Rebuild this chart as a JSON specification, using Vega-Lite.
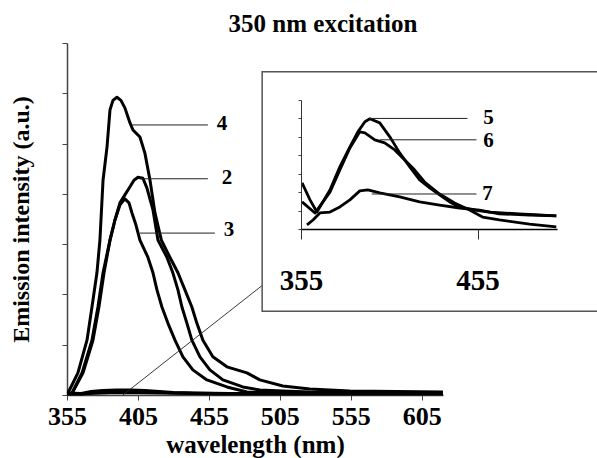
{
  "$schema": "https://vega.github.io/schema/vega-lite/v6.json",
  "width": 376,
  "height": 352,
  "autosize": {"type": "none"},
  "padding": {"left": 67, "top": 43, "right": 154, "bottom": 63},
  "background": "white",
  "config": {
    "view": {"stroke": null},
    "font": "Liberation Serif",
    "axis": {"labelFont": "Liberation Serif", "titleFont": "Liberation Serif", "labelFontWeight": "bold", "titleFontWeight": "bold", "labelColor": "black", "titleColor": "black", "grid": false, "domainColor": "#444", "tickColor": "#444", "labelOverlap": false, "labelFlush": false}
  },
  "title": {"text": "350 nm excitation", "font": "Liberation Serif", "fontWeight": "bold", "fontSize": 25, "color": "black", "anchor": "middle", "frame": "group", "dx": 68, "dy": 27, "baseline": "alphabetic", "offset": 13},
  "datasets": {
    "main": [
      {"s": "4", "wl": 355.7, "v": 0.04}, {"s": "4", "wl": 362.7, "v": 0.44}, {"s": "4", "wl": 369.1, "v": 1.09}, {"s": "4", "wl": 372.6, "v": 1.75}, {"s": "4", "wl": 376.1, "v": 2.43}, {"s": "4", "wl": 378.2, "v": 3.08}, {"s": "4", "wl": 380.4, "v": 4.27}, {"s": "4", "wl": 383.2, "v": 4.93}, {"s": "4", "wl": 385.3, "v": 5.67}, {"s": "4", "wl": 387.4, "v": 5.86}, {"s": "4", "wl": 390.2, "v": 5.92}, {"s": "4", "wl": 393, "v": 5.86}, {"s": "4", "wl": 395.8, "v": 5.71}, {"s": "4", "wl": 399.4, "v": 5.41}, {"s": "4", "wl": 401.5, "v": 5.27}, {"s": "4", "wl": 406.4, "v": 5.13}, {"s": "4", "wl": 409.9, "v": 4.81}, {"s": "4", "wl": 413.5, "v": 4.27}, {"s": "4", "wl": 417, "v": 3.62}, {"s": "4", "wl": 421.5, "v": 3.08}, {"s": "4", "wl": 427.5, "v": 2.74}, {"s": "4", "wl": 433.2, "v": 2.43}, {"s": "4", "wl": 438.1, "v": 2.09}, {"s": "4", "wl": 443, "v": 1.75}, {"s": "4", "wl": 446.5, "v": 1.43}, {"s": "4", "wl": 450.8, "v": 1.09}, {"s": "4", "wl": 457.8, "v": 0.76}, {"s": "4", "wl": 467.7, "v": 0.56}, {"s": "4", "wl": 481.8, "v": 0.44}, {"s": "4", "wl": 490.9, "v": 0.3}, {"s": "4", "wl": 507.1, "v": 0.18}, {"s": "4", "wl": 526.1, "v": 0.12}, {"s": "4", "wl": 554.3, "v": 0.08}, {"s": "4", "wl": 620, "v": 0.06},
      {"s": "2", "wl": 358.5, "v": 0.04}, {"s": "2", "wl": 365.6, "v": 0.44}, {"s": "2", "wl": 372.6, "v": 1.09}, {"s": "2", "wl": 376.8, "v": 1.75}, {"s": "2", "wl": 380.4, "v": 2.43}, {"s": "2", "wl": 385.3, "v": 3.08}, {"s": "2", "wl": 388.8, "v": 3.48}, {"s": "2", "wl": 392.3, "v": 3.82}, {"s": "2", "wl": 395.8, "v": 3.98}, {"s": "2", "wl": 399.4, "v": 4.14}, {"s": "2", "wl": 402.2, "v": 4.27}, {"s": "2", "wl": 405, "v": 4.33}, {"s": "2", "wl": 408.5, "v": 4.31}, {"s": "2", "wl": 411.3, "v": 4.12}, {"s": "2", "wl": 415.6, "v": 3.68}, {"s": "2", "wl": 419.1, "v": 3.08}, {"s": "2", "wl": 425.4, "v": 2.74}, {"s": "2", "wl": 429.6, "v": 2.43}, {"s": "2", "wl": 433.2, "v": 2.09}, {"s": "2", "wl": 436, "v": 1.75}, {"s": "2", "wl": 439.5, "v": 1.43}, {"s": "2", "wl": 443, "v": 1.09}, {"s": "2", "wl": 448.7, "v": 0.76}, {"s": "2", "wl": 455.7, "v": 0.5}, {"s": "2", "wl": 464.9, "v": 0.3}, {"s": "2", "wl": 478.9, "v": 0.16}, {"s": "2", "wl": 490.9, "v": 0.1}, {"s": "2", "wl": 507.1, "v": 0.08}, {"s": "2", "wl": 526, "v": 0.06}, {"s": "2", "wl": 620, "v": 0.04},
      {"s": "3", "wl": 358.5, "v": 0.03}, {"s": "3", "wl": 366.3, "v": 0.44}, {"s": "3", "wl": 373.3, "v": 1.09}, {"s": "3", "wl": 377.5, "v": 1.75}, {"s": "3", "wl": 381.1, "v": 2.43}, {"s": "3", "wl": 385.3, "v": 3.08}, {"s": "3", "wl": 388.8, "v": 3.48}, {"s": "3", "wl": 392.3, "v": 3.78}, {"s": "3", "wl": 395.8, "v": 3.9}, {"s": "3", "wl": 398.7, "v": 3.82}, {"s": "3", "wl": 400.8, "v": 3.62}, {"s": "3", "wl": 403.6, "v": 3.38}, {"s": "3", "wl": 406.4, "v": 3.08}, {"s": "3", "wl": 412, "v": 2.74}, {"s": "3", "wl": 415.6, "v": 2.43}, {"s": "3", "wl": 418.4, "v": 2.09}, {"s": "3", "wl": 421.9, "v": 1.75}, {"s": "3", "wl": 426.1, "v": 1.43}, {"s": "3", "wl": 431.1, "v": 1.09}, {"s": "3", "wl": 436.7, "v": 0.76}, {"s": "3", "wl": 443.7, "v": 0.5}, {"s": "3", "wl": 453.6, "v": 0.3}, {"s": "3", "wl": 467.7, "v": 0.16}, {"s": "3", "wl": 481.8, "v": 0.06}, {"s": "3", "wl": 519, "v": 0.04}, {"s": "3", "wl": 620, "v": 0.03},
      {"s": "5", "wl": 355, "v": 0.04}, {"s": "5", "wl": 365, "v": 0.03}, {"s": "5", "wl": 372, "v": 0.07}, {"s": "5", "wl": 380, "v": 0.09}, {"s": "5", "wl": 390, "v": 0.1}, {"s": "5", "wl": 400, "v": 0.1}, {"s": "5", "wl": 410, "v": 0.09}, {"s": "5", "wl": 420, "v": 0.07}, {"s": "5", "wl": 430, "v": 0.05}, {"s": "5", "wl": 445, "v": 0.04}, {"s": "5", "wl": 470, "v": 0.03}, {"s": "5", "wl": 620, "v": 0.03},
      {"s": "6", "wl": 355, "v": 0.03}, {"s": "6", "wl": 365, "v": 0.02}, {"s": "6", "wl": 380, "v": 0.07}, {"s": "6", "wl": 390, "v": 0.08}, {"s": "6", "wl": 410, "v": 0.07}, {"s": "6", "wl": 430, "v": 0.04}, {"s": "6", "wl": 460, "v": 0.02}, {"s": "6", "wl": 620, "v": 0.02},
      {"s": "7", "wl": 355, "v": 0.02}, {"s": "7", "wl": 370, "v": 0.03}, {"s": "7", "wl": 390, "v": 0.05}, {"s": "7", "wl": 420, "v": 0.04}, {"s": "7", "wl": 460, "v": 0.03}, {"s": "7", "wl": 620, "v": 0.03}
    ],
    "mainRules": [
      {"wl": 400.1, "wl2": 454.3, "v": 5.37},
      {"wl": 406.4, "wl2": 454.3, "v": 4.3},
      {"wl": 406.4, "wl2": 459.2, "v": 3.22}
    ],
    "mainLabels": [
      {"lab": "4", "wl": 464.2, "v": 5.39},
      {"lab": "2", "wl": 467.7, "v": 4.31},
      {"lab": "3", "wl": 469.1, "v": 3.28}
    ],
    "zoomLine": [
      {"wl": 394.4, "wl2": 495.8, "v": 0, "v2": 2.25}
    ],
    "box": [
      {"wl": 333, "wl2": 525, "v": -4.46, "v2": 8.53}
    ],
    "inset": [
      {"s": "5", "wl": 355.6, "v": 2.5}, {"s": "5", "wl": 360.1, "v": 1.58}, {"s": "5", "wl": 364, "v": 0.92}, {"s": "5", "wl": 371.4, "v": 2.12}, {"s": "5", "wl": 377, "v": 3.37}, {"s": "5", "wl": 382.7, "v": 4.46}, {"s": "5", "wl": 387.2, "v": 5.27}, {"s": "5", "wl": 391.2, "v": 5.82}, {"s": "5", "wl": 394, "v": 5.98}, {"s": "5", "wl": 399.6, "v": 5.76}, {"s": "5", "wl": 405.3, "v": 5.0}, {"s": "5", "wl": 410.9, "v": 4.13}, {"s": "5", "wl": 416.6, "v": 3.37}, {"s": "5", "wl": 422.2, "v": 2.66}, {"s": "5", "wl": 427.9, "v": 2.23}, {"s": "5", "wl": 433.5, "v": 1.85}, {"s": "5", "wl": 439.2, "v": 1.47}, {"s": "5", "wl": 444.8, "v": 1.2}, {"s": "5", "wl": 453.3, "v": 1.03}, {"s": "5", "wl": 461.8, "v": 0.92}, {"s": "5", "wl": 478.7, "v": 0.82}, {"s": "5", "wl": 499.6, "v": 0.71},
      {"s": "6", "wl": 355.6, "v": 1.47}, {"s": "6", "wl": 362.9, "v": 0.87}, {"s": "6", "wl": 371.4, "v": 2.0}, {"s": "6", "wl": 377, "v": 3.2}, {"s": "6", "wl": 382.7, "v": 4.4}, {"s": "6", "wl": 388.3, "v": 5.27}, {"s": "6", "wl": 391.2, "v": 5.22}, {"s": "6", "wl": 396.8, "v": 4.84}, {"s": "6", "wl": 402.4, "v": 4.67}, {"s": "6", "wl": 408.1, "v": 4.29}, {"s": "6", "wl": 413.8, "v": 3.75}, {"s": "6", "wl": 419.4, "v": 3.2}, {"s": "6", "wl": 425, "v": 2.55}, {"s": "6", "wl": 433.5, "v": 1.9}, {"s": "6", "wl": 442, "v": 1.41}, {"s": "6", "wl": 450.5, "v": 1.03}, {"s": "6", "wl": 457.8, "v": 0.65}, {"s": "6", "wl": 467.4, "v": 0.49}, {"s": "6", "wl": 484.4, "v": 0.27}, {"s": "6", "wl": 499.6, "v": 0.11},
      {"s": "7", "wl": 358.4, "v": 0.22}, {"s": "7", "wl": 361.8, "v": 0.49}, {"s": "7", "wl": 365.7, "v": 0.87}, {"s": "7", "wl": 371.4, "v": 0.92}, {"s": "7", "wl": 377, "v": 1.2}, {"s": "7", "wl": 382.7, "v": 1.58}, {"s": "7", "wl": 388.3, "v": 2.07}, {"s": "7", "wl": 392.9, "v": 2.12}, {"s": "7", "wl": 399.6, "v": 1.96}, {"s": "7", "wl": 410.9, "v": 1.74}, {"s": "7", "wl": 422.2, "v": 1.47}, {"s": "7", "wl": 433.5, "v": 1.3}, {"s": "7", "wl": 444.8, "v": 1.14}, {"s": "7", "wl": 456.1, "v": 1.03}, {"s": "7", "wl": 467.4, "v": 0.82}, {"s": "7", "wl": 484.4, "v": 0.76}, {"s": "7", "wl": 499.6, "v": 0.71}
    ],
    "insetRules": [
      {"wl": 394, "wl2": 449.3, "v": 6.0},
      {"wl": 399.6, "wl2": 454.4, "v": 4.84},
      {"wl": 395.1, "wl2": 454.4, "v": 1.9}
    ],
    "insetLabels": [
      {"lab": "5", "wl": 461.2, "v": 6.05},
      {"lab": "6", "wl": 461.2, "v": 4.8},
      {"lab": "7", "wl": 460.6, "v": 1.88}
    ]
  },
  "layer": [
    {
      "layer": [
        {
          "data": {"name": "main"},
          "mark": {"type": "line", "color": "black", "strokeWidth": 3, "strokeJoin": "round"},
          "encoding": {
            "x": {"field": "wl", "type": "quantitative", "scale": {"domain": [355, 620], "nice": false, "zero": false},
              "axis": {"orient": "bottom", "values": [355, 405, 455, 505, 555, 605], "labelFontSize": 26, "labelPadding": 3, "tickSize": 5, "domainWidth": 1.5, "title": "wavelength (nm)", "titleFontSize": 25, "titlePadding": 3}},
            "y": {"field": "v", "type": "quantitative", "scale": {"domain": [0, 7], "nice": false, "zero": true},
              "axis": {"orient": "left", "values": [0, 1, 2, 3, 4, 5, 6, 7], "labels": false, "tickSize": 5, "domainWidth": 1.5, "title": "Emission intensity (a.u.)", "titleFontSize": 24, "titlePadding": 28}},
            "detail": {"field": "s"},
            "order": {"field": "wl"}
          }
        },
        {
          "data": {"name": "mainRules"},
          "mark": {"type": "rule", "color": "#222", "strokeWidth": 1},
          "encoding": {"x": {"field": "wl", "type": "quantitative"}, "x2": {"field": "wl2"}, "y": {"field": "v", "type": "quantitative"}}
        },
        {
          "data": {"name": "zoomLine"},
          "mark": {"type": "rule", "color": "#222", "strokeWidth": 0.9},
          "encoding": {"x": {"field": "wl", "type": "quantitative"}, "x2": {"field": "wl2"}, "y": {"field": "v", "type": "quantitative"}, "y2": {"field": "v2"}}
        },
        {
          "data": {"name": "mainLabels"},
          "mark": {"type": "text", "font": "Liberation Serif", "fontWeight": "bold", "fontSize": 21, "color": "black", "align": "center", "baseline": "middle"},
          "encoding": {"x": {"field": "wl", "type": "quantitative"}, "y": {"field": "v", "type": "quantitative"}, "text": {"field": "lab"}}
        }
      ]
    },
    {
      "layer": [
        {
          "data": {"name": "box"},
          "mark": {"type": "rect", "fill": "white", "stroke": "#555", "strokeWidth": 1.5},
          "encoding": {
            "x": {"field": "wl", "type": "quantitative", "scale": {"domain": [355, 500], "range": [234, 490], "nice": false, "zero": false},
              "axis": {"orient": "bottom", "offset": -166, "zindex": 1, "values": [355, 455], "labelFontSize": 29, "labelPadding": 27, "tickSize": 10, "domainColor": "black", "tickColor": "#333", "domainWidth": 1.5, "title": null}},
            "x2": {"field": "wl2"},
            "y": {"field": "v", "type": "quantitative", "scale": {"domain": [0, 7], "range": [186, 57], "nice": false, "zero": true},
              "axis": {"orient": "left", "offset": -234, "zindex": 1, "values": [0, 1, 2, 3, 4, 5, 6, 7], "labels": false, "tickSize": 3, "domainColor": "#333", "domainWidth": 1, "title": null}},
            "y2": {"field": "v2"}
          }
        },
        {
          "data": {"name": "inset"},
          "mark": {"type": "line", "color": "black", "strokeWidth": 2.8, "strokeJoin": "round"},
          "encoding": {"x": {"field": "wl", "type": "quantitative"}, "y": {"field": "v", "type": "quantitative"}, "detail": {"field": "s"}, "order": {"field": "wl"}}
        },
        {
          "data": {"name": "insetRules"},
          "mark": {"type": "rule", "color": "#222", "strokeWidth": 1},
          "encoding": {"x": {"field": "wl", "type": "quantitative"}, "x2": {"field": "wl2"}, "y": {"field": "v", "type": "quantitative"}}
        },
        {
          "data": {"name": "insetLabels"},
          "mark": {"type": "text", "font": "Liberation Serif", "fontWeight": "bold", "fontSize": 21, "color": "black", "align": "center", "baseline": "middle"},
          "encoding": {"x": {"field": "wl", "type": "quantitative"}, "y": {"field": "v", "type": "quantitative"}, "text": {"field": "lab"}}
        }
      ]
    }
  ],
  "resolve": {"scale": {"x": "independent", "y": "independent"}, "axis": {"x": "independent", "y": "independent"}}
}
